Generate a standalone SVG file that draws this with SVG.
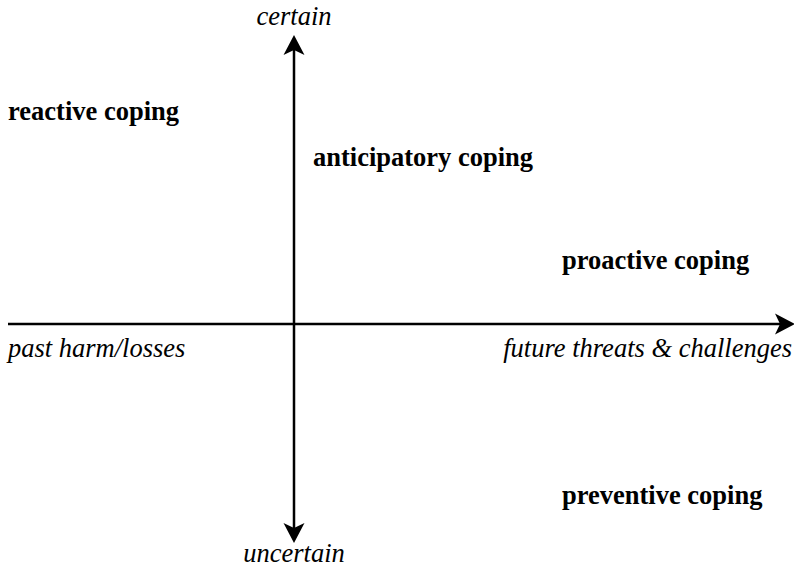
<svg xmlns="http://www.w3.org/2000/svg" width="794" height="567" viewBox="0 0 794 567">
  <style>
    .axis { stroke: #000; stroke-width: 2.5; fill: none; }
    .lbl { font-size: 26.5px; fill: #000; }
    .bold { font-weight: bold; }
    .ital { font-style: italic; }
  </style>
  <defs>
    <marker id="head" markerUnits="userSpaceOnUse" markerWidth="24" markerHeight="24" viewBox="-6 -12 24 24" refX="0" refY="0" orient="auto-start-reverse" overflow="visible">
      <path d="M15,0 L-5,-10.5 L0,0 L-5,10.5 Z" fill="#000"/>
    </marker>
  </defs>
  <rect width="794" height="567" fill="#fff"/>

  <!-- axes -->
  <g id="connectors">
    <line class="axis" x1="294" y1="528" x2="294" y2="50" marker-start="url(#head)" marker-end="url(#head)"/>
    <line class="axis" x1="8" y1="324" x2="780" y2="324" marker-end="url(#head)"/>
  </g>

  <g font-family="Liberation Serif, Times New Roman, Times, serif">
    <!-- axis labels -->
    <g id="axis-certain"><text class="lbl ital" x="294" y="25" text-anchor="middle">certain</text></g>
    <g id="axis-uncertain"><text class="lbl ital" x="294" y="562" text-anchor="middle">uncertain</text></g>
    <g id="axis-past"><text class="lbl ital" x="8" y="357">past harm/losses</text></g>
    <g id="axis-future"><text class="lbl ital" x="792" y="357" text-anchor="end">future threats &amp; challenges</text></g>

    <!-- coping types -->
    <g id="reactive"><text class="lbl bold" x="8" y="120">reactive coping</text></g>
    <g id="anticipatory"><text class="lbl bold" x="313" y="166">anticipatory coping</text></g>
    <g id="proactive"><text class="lbl bold" x="562" y="269">proactive coping</text></g>
    <g id="preventive"><text class="lbl bold" x="562" y="504">preventive coping</text></g>
  </g>
</svg>
